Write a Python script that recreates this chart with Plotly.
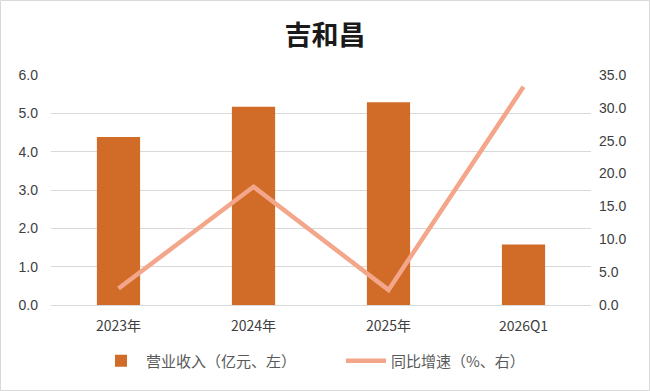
import plotly.graph_objects as go

categories = ["2023年", "2024年", "2025年", "2026Q1"]
revenue = [4.38, 5.17, 5.29, 1.58]
growth = [2.5, 18.0, 2.3, 33.2]
left_ticks = [0, 1, 2, 3, 4, 5, 6]
right_ticks = [0, 5, 10, 15, 20, 25, 30, 35]

font_cjk = "Noto Sans CJK SC"

fig = go.Figure()
fig.add_trace(go.Bar(
    x=categories, y=revenue, name="营业收入（亿元、左）",
    marker=dict(color="#D06C27", line=dict(width=0)),
    width=0.32, yaxis="y",
))
fig.add_trace(go.Scatter(
    x=categories, y=growth, name="同比增速（%、右）",
    mode="lines", line=dict(color="#F3A68A", width=4.5),
    yaxis="y2",
))

W, H = 650, 391
ml, mr, mt, mb = 51, 59, 75, 86
pw = W - ml - mr
ph = H - mt - mb

fig.update_layout(
    width=W, height=H,
    margin=dict(l=ml, r=mr, t=mt, b=mb, pad=0),
    paper_bgcolor="white", plot_bgcolor="white",
    title=dict(text="<b>吉和昌</b>", x=0.5, xanchor="center", y=1 - 36 / H, yanchor="middle",
               font=dict(family=font_cjk, size=27, color="#1a1a1a")),
    font=dict(family=font_cjk, size=13, color="#404040"),
    xaxis=dict(showgrid=False, showline=True, linecolor="#D9D9D9", ticks="",
               tickfont=dict(family=font_cjk, size=14, color="#404040"),
               ticklabelstandoff=8),
    yaxis=dict(range=[0, 6], tickvals=left_ticks, tickformat=".1f",
               showgrid=True, gridcolor="#D9D9D9", gridwidth=1, zeroline=False,
               tickfont=dict(family="Liberation Sans", size=14, color="#404040"),
               ticks="", ticklabelstandoff=12),
    yaxis2=dict(range=[0, 35], tickvals=right_ticks, tickformat=".1f",
                overlaying="y", side="right", showgrid=False, zeroline=False,
                tickfont=dict(family="Liberation Sans", size=14, color="#404040"),
                ticks="", ticklabelstandoff=7),
    bargap=0.68,
    legend=dict(orientation="h", x=0.5 + 20 / pw, xanchor="center", y=-(361 - 305) / ph, yanchor="middle",
                font=dict(family=font_cjk, size=15, color="#595959"),
                itemwidth=40, tracegroupgap=0, entrywidth=190, entrywidthmode="pixels"),
    showlegend=True,
    shapes=[dict(type="rect", xref="paper", yref="paper",
                 x0=-(ml - 0.5) / pw, x1=1 + (mr - 0.5) / pw,
                 y0=-(mb - 0.5) / ph, y1=1 + (mt - 0.5) / ph,
                 line=dict(color="#D9D9D9", width=1), layer="below")],
)

fig.write_html("out.html")
